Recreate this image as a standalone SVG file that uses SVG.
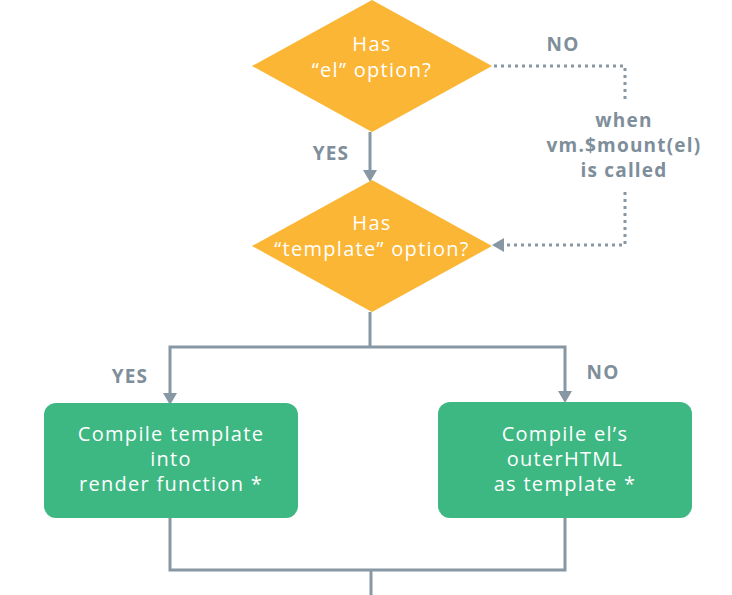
<svg xmlns="http://www.w3.org/2000/svg" width="732" height="595" viewBox="0 0 732 595">
<style>
.dia{fill:#fbb636}
.box{fill:#3db882}
.ln{fill:none;stroke:#8798a4;stroke-width:3}
.dot{fill:none;stroke:#8798a4;stroke-width:3;stroke-dasharray:3 4}
.wt{font-family:"Open Sans","Noto Sans",sans-serif;font-size:20px;letter-spacing:1.3px;fill:#ffffff;text-anchor:middle}
.lb{font-family:"Open Sans","Noto Sans",sans-serif;font-weight:bold;font-size:19px;letter-spacing:1.2px;fill:#7e8e9a;text-anchor:middle}
.ah{fill:#8798a4}
</style>
<rect width="732" height="595" fill="#ffffff"/>
<g id="connectors">
<line class="ln" x1="370" y1="132" x2="370" y2="172"/>
<polygon class="ah" points="363,170 377,170 370,182"/>
<polyline class="dot" points="494,66 625,66 625,103"/>
<polyline class="dot" points="625,192 625,245 505,245"/>
<polygon class="ah" points="504,238 504,252 492,245"/>
<polyline class="ln" points="370,312 370,347"/>
<polyline class="ln" points="170,395 170,347 565,347 565,395"/>
<polygon class="ah" points="163,393 177,393 170,405"/>
<polygon class="ah" points="558,391 572,391 565,403"/>
<polyline class="ln" points="170,518 170,570 565,570 565,518"/>
<line class="ln" x1="371" y1="570" x2="371" y2="595"/>
<text class="lb" x="331" y="160">YES</text>
<text class="lb" x="563" y="51">NO</text>
<text class="lb" x="624" y="127">when</text>
<text class="lb" x="624" y="152">vm.$mount(el)</text>
<text class="lb" x="624" y="177">is called</text>
<text class="lb" x="130" y="383">YES</text>
<text class="lb" x="603" y="379">NO</text>
</g>
<g id="has-el">
<polygon class="dia" points="372,0 492,66 372,132 252,66"/>
<text class="wt" x="372" y="51">Has</text>
<text class="wt" x="372" y="77">“el” option?</text>
</g>
<g id="has-template">
<polygon class="dia" points="372,180 492,246 372,312 252,246"/>
<text class="wt" x="372" y="230">Has</text>
<text class="wt" x="372" y="256">“template” option?</text>
</g>
<g id="compile-template">
<rect class="box" x="44" y="403" width="254" height="115" rx="12"/>
<text class="wt" x="171" y="441">Compile template</text>
<text class="wt" x="171" y="466">into</text>
<text class="wt" x="171" y="491">render function *</text>
</g>
<g id="compile-el">
<rect class="box" x="438" y="402" width="254" height="116" rx="12"/>
<text class="wt" x="565" y="441">Compile el’s</text>
<text class="wt" x="565" y="466">outerHTML</text>
<text class="wt" x="565" y="491">as template *</text>
</g>
</svg>
